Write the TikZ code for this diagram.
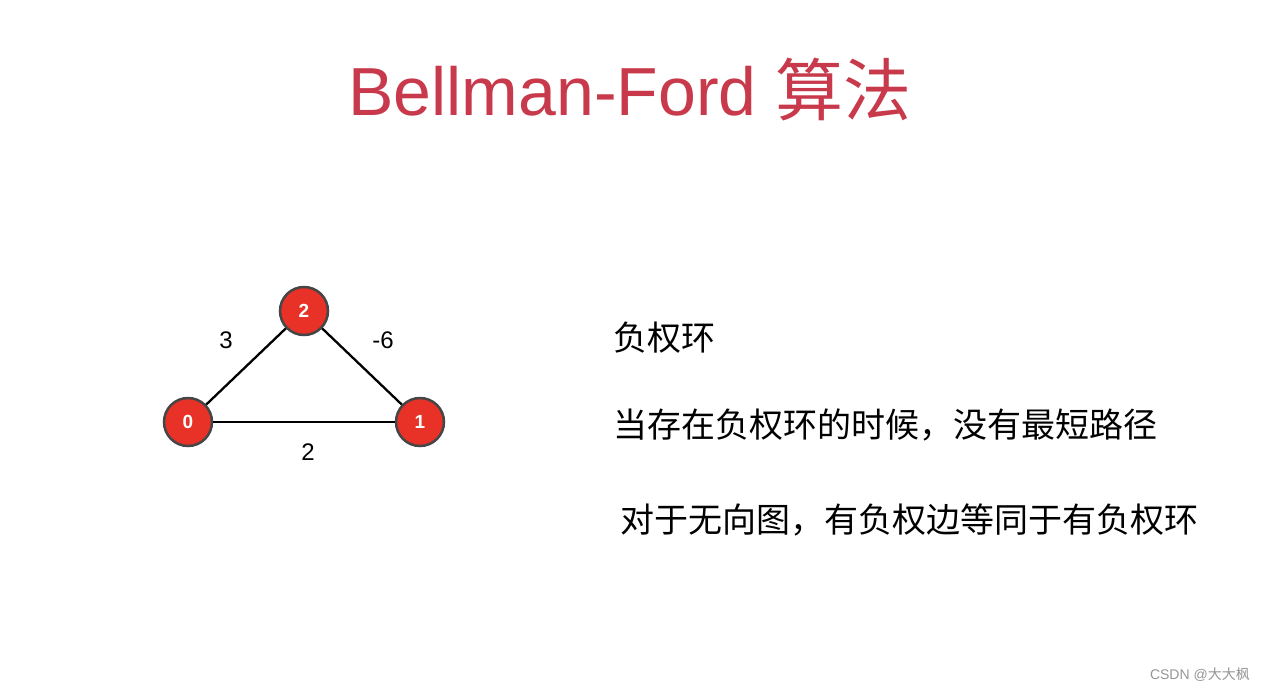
\documentclass[tikz,border=0pt]{standalone}
\usepackage{fontspec}
\setmainfont{Liberation Sans}
\newfontfamily\cjk{Noto Sans CJK SC}
\definecolor{titlered}{RGB}{200,58,75}
\definecolor{nodered}{RGB}{232,50,40}
\definecolor{nodeborder}{RGB}{70,70,70}
\definecolor{wmgray}{RGB}{150,150,150}
\begin{document}
\begin{tikzpicture}[x=1pt,y=-1pt,
  vert/.style={circle,draw=nodeborder,line width=2.5pt,fill=nodered,minimum size=48pt,inner sep=0pt,text=white,font=\fontsize{19}{19}\selectfont\bfseries},
  edge/.style={line width=2.3pt,black},
  wlabel/.style={font=\fontsize{24}{24}\selectfont,inner sep=0pt},
  bodytext/.style={font=\fontsize{34}{34}\selectfont\cjk,anchor=base west,inner sep=0pt}]
\fill[white] (0,0) rectangle (1265,691);
\useasboundingbox (0,0) rectangle (1265,691);
\node[anchor=base,inner sep=0pt,text=titlered,font=\fontsize{68}{68}\selectfont] (title) at (630,115) {Bellman-Ford {\cjk 算法}};
\node[vert] (n0) at (188,422) {0};
\node[vert] (n1) at (420,422) {1};
\node[vert] (n2) at (304,311) {2};
\draw[edge] (n0) -- (n1);
\draw[edge] (n0) -- (n2);
\draw[edge] (n2) -- (n1);
\node[wlabel] (l3) at (226,340) {3};
\node[wlabel] (l6) at (383,340) {-6};
\node[wlabel] (l2) at (308,452) {2};
\node[bodytext] (t1) at (613,350) {负权环};
\node[bodytext] (t2) at (613,437) {当存在负权环的时候，没有最短路径};
\node[bodytext] (t3) at (620,532) {对于无向图，有负权边等同于有负权环};
\node[anchor=east,inner sep=0pt,text=wmgray,font=\fontsize{14}{14}\selectfont] (wm) at (1250,675) {CSDN @{\cjk 大大枫}};
\end{tikzpicture}
\end{document}
